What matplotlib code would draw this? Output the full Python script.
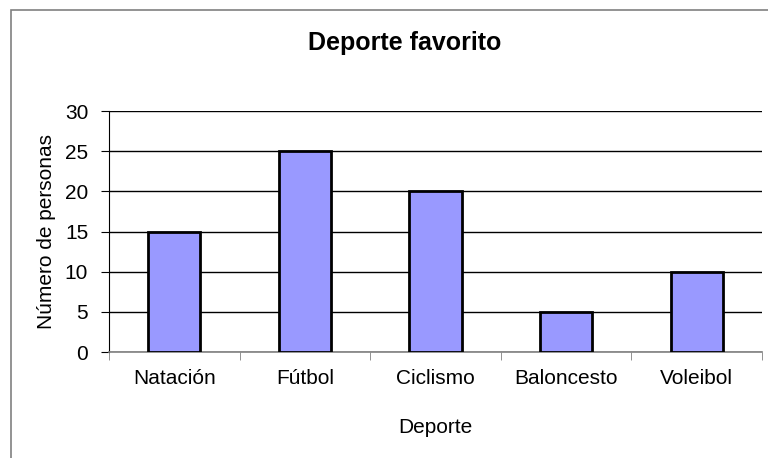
import matplotlib.pyplot as plt
from matplotlib.patches import Rectangle

# datos
deportes = ['Natación', 'Fútbol', 'Ciclismo', 'Baloncesto', 'Voleibol']
personas = [15, 25, 20, 5, 10]
yticks = [0, 5, 10, 15, 20, 25, 30]

plt.rcParams['font.family'] = ['Liberation Sans', 'DejaVu Sans']

fig = plt.figure(figsize=(7.68, 4.58), dpi=100)
# marco exterior del gráfico (se sale de la imagen por abajo y a la derecha)
fig.patches.append(Rectangle((11 / 768, -0.1), 1.2, 1 - 10 / 458 + 0.1,
                             transform=fig.transFigure, fill=False,
                             edgecolor='#808080', linewidth=1.2))

ax = fig.add_axes([109 / 768, 1 - 352 / 458, 653 / 768, 241 / 458])
x = range(len(deportes))
ax.bar(x, personas, width=0.4, color='#9999FF', edgecolor='black', linewidth=2, zorder=3)

ax.set_xlim(-0.5, len(deportes) - 0.5)
ax.set_ylim(0, 30)
ax.set_yticks(yticks)
ax.yaxis.grid(True, color='black', linewidth=1, zorder=0)

ax.set_xticks(x)
ax.set_xticklabels(deportes, fontsize=15)
ax.tick_params(axis='x', length=0, pad=12)
# marcas entre categorías
ax.set_xticks([i - 0.5 for i in range(len(deportes) + 1)], minor=True)
ax.tick_params(axis='x', which='minor', length=6, color='#808080', direction='out')
ax.tick_params(axis='y', length=6, labelsize=15, direction='out', pad=9)

for s in ['top', 'right']:
    ax.spines[s].set_visible(False)
ax.spines['left'].set_color('black')
ax.spines['bottom'].set_color('#808080')
ax.spines['bottom'].set_linewidth(1.2)

ax.set_xlabel('Deporte', fontsize=15, labelpad=22)
ax.set_ylabel('Número de personas', fontsize=15, labelpad=6)
fig.text(405 / 768, 1 - 43 / 458, 'Deporte favorito', fontsize=18,
         fontweight='bold', ha='center', va='center')

fig.savefig('out.png', dpi=100)
